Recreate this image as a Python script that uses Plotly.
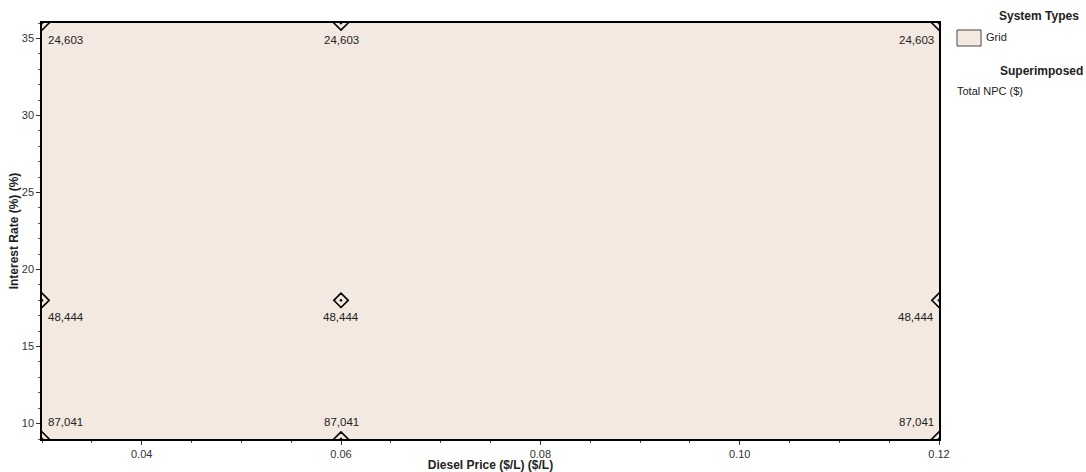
import plotly.graph_objects as go

# Sensitivity grid: diesel price vs interest rate, total NPC at each case
diesel_price = [0.03, 0.06, 0.12]
interest_rate = [9, 18, 36]
total_npc = {9: 87041, 18: 48444, 36: 24603}

x_ticks = [0.04, 0.06, 0.08, 0.10, 0.12]
y_ticks = [10, 15, 20, 25, 30, 35]

grid_color = "#F3E9E0"
font_family = "Liberation Sans, Arial, sans-serif"

xs = [xv for yv in interest_rate for xv in diesel_price]
ys = [yv for yv in interest_rate for xv in diesel_price]

fig = go.Figure()
fig.add_trace(go.Scatter(
    x=xs, y=ys, mode="markers",
    marker=dict(symbol="diamond-open-dot", size=11, color="black",
                line=dict(color="black", width=1.6)),
    showlegend=False, hoverinfo="skip",
))

# NPC value labels next to each sensitivity case
for xv, yv in zip(xs, ys):
    if xv == min(diesel_price):
        xanchor, xshift = "left", 4
    elif xv == max(diesel_price):
        xanchor, xshift = "right", -3
    else:
        xanchor, xshift = "center", 0
    yshift = 17 if yv == min(interest_rate) else -17
    fig.add_annotation(
        x=xv, y=yv, text=f"{total_npc[yv]:,}", showarrow=False,
        xanchor=xanchor, yanchor="middle", xshift=xshift, yshift=yshift,
        font=dict(family=font_family, size=11.5, color="#222222"),
    )

fig.update_layout(
    width=1086, height=472,
    margin=dict(l=42, r=147, t=23, b=33),
    paper_bgcolor="white", plot_bgcolor=grid_color,
    font=dict(family=font_family, size=11, color="#333333"),
)
fig.update_xaxes(
    range=[0.03, 0.12], tickvals=x_ticks, tickformat=".2f",
    ticks="outside", ticklen=4, tickcolor="#333333",
    minor=dict(dtick=0.005, ticks="outside", ticklen=2, tickcolor="#555555"),
    showgrid=False, zeroline=False, automargin=False,
    showline=True, linecolor="black", linewidth=1.5, mirror=True,
    title=dict(text="<b>Diesel Price ($/L) ($/L)</b>", standoff=0,
               font=dict(size=12, color="#222222")),
)
fig.update_yaxes(
    range=[9, 36], tickvals=y_ticks,
    ticks="outside", ticklen=4, tickcolor="#333333",
    minor=dict(dtick=1, ticks="outside", ticklen=2, tickcolor="#555555"),
    showgrid=False, zeroline=False, automargin=False,
    showline=True, linecolor="black", linewidth=1.5, mirror=True,
    title=dict(text="<b>Interest Rate (%) (%)</b>", standoff=1,
               font=dict(size=12, color="#222222")),
)

# Legend panel on the right
fig.add_annotation(xref="paper", yref="paper", x=1.0, y=1.0, xshift=142, yshift=7,
                   xanchor="right", yanchor="middle", showarrow=False,
                   text="<b>System Types</b>", font=dict(size=12, color="#222222"))
fig.add_shape(type="rect", xref="paper", yref="paper",
              x0=18, x1=42, y0=-7, y1=-23, xsizemode="pixel", ysizemode="pixel",
              xanchor=1.0, yanchor=1.0,
              fillcolor=grid_color, line=dict(color="#444444", width=1))
fig.add_annotation(xref="paper", yref="paper", x=1.0, y=1.0, xshift=45, yshift=-14,
                   xanchor="left", yanchor="middle", showarrow=False,
                   text="Grid", font=dict(size=11, color="#222222"))
fig.add_annotation(xref="paper", yref="paper", x=1.0, y=1.0, xshift=146, yshift=-48,
                   xanchor="right", yanchor="middle", showarrow=False,
                   text="<b>Superimposed</b>", font=dict(size=12, color="#222222"))
fig.add_annotation(xref="paper", yref="paper", x=1.0, y=1.0, xshift=16, yshift=-68,
                   xanchor="left", yanchor="middle", showarrow=False,
                   text="Total NPC ($)", font=dict(size=11, color="#222222"))

fig.write_html("out.html")
